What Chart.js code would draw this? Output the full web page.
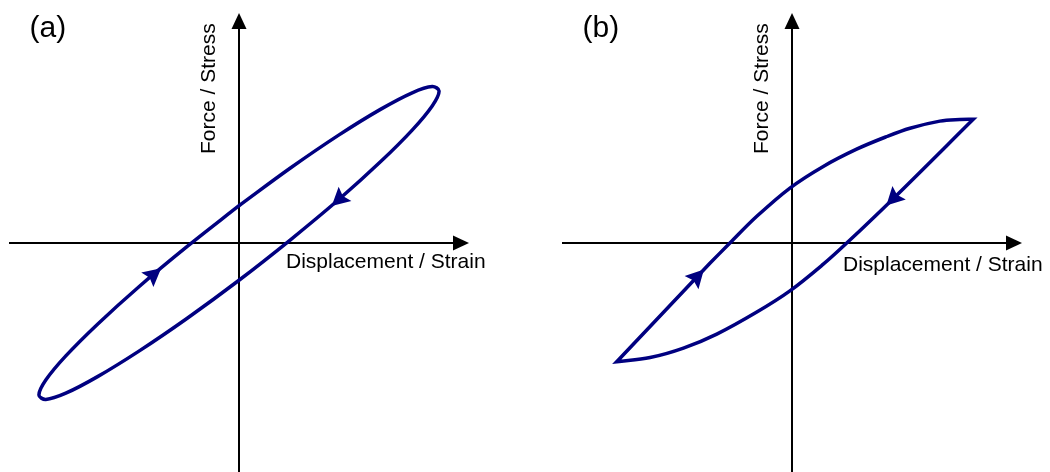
<!DOCTYPE html>
<html>
<head>
<meta charset="utf-8">
<title>Hysteresis loops</title>
<script src="https://cdn.jsdelivr.net/npm/chart.js@4"></script>
<style>
  html, body { margin: 0; padding: 0; background: #fff; }
  #wrap { position: relative; width: 1050px; height: 472px; overflow: hidden; }
  canvas { position: absolute; top: 0; }
  #chart-a { left: 0; }
  #chart-b { left: 525px; }
</style>
</head>
<body>
<div id="wrap">
  <canvas id="chart-a" width="525" height="480"></canvas>
  <canvas id="chart-b" width="525" height="480"></canvas>
</div>
<script>
// Axis range shared by both panels (arbitrary units)
const axisMin = -10;
const axisMax = 10;

// (a) elliptical loop, starts on the loading (upper) branch
const loopAX = [0, 2.25, 4.35, 6.15, 7.53, 8.40, 8.70, 8.40, 7.53, 6.15, 4.35, 2.25,
                0, -2.25, -4.35, -6.15, -7.53, -8.40, -8.70, -8.40, -7.53, -6.15, -4.35, -2.25, 0];
const loopAY = [1.62, 3.27, 4.70, 5.81, 6.53, 6.80, 6.61, 5.96, 4.91, 3.53, 1.90, 0.15,
                -1.62, -3.27, -4.70, -5.81, -6.53, -6.80, -6.61, -5.96, -4.91, -3.53, -1.90, -0.15, 1.62];
// direction arrows sitting on the loop
const arrowsAX = [-3.78, 4.30];
const arrowsAY = [-1.30, 1.96];

// (b) loop with sharp load reversals (corner points are listed twice)
const loopBX = [-3.57, -2.70, -1.53, -0.09, 1.36, 2.81, 4.10, 5.13, 6.43, 7.30, 7.88, 7.88,
                4.41, 2.38, 1.36, -0.09, -1.53, -3.27, -4.72, -6.17, -7.62, -7.62, -3.57];
const loopBY = [-0.88, 0, 1.16, 2.39, 3.33, 4.08, 4.62, 4.99, 5.30, 5.37, 5.38, 5.38,
                1.94, 0, -0.92, -2.08, -3.00, -3.96, -4.57, -4.98, -5.16, -5.16, -0.88];
const arrowsBX = [-4.14, 4.41];
const arrowsBY = [-1.46, 1.94];

const panelLabels = ['(a)', '(b)'];
const xTitle = 'Displacement / Strain';
const yTitle = 'Force / Stress';

const LINE_COLOR = '#000080';
const FONT = '"Liberation Sans", Arial, Helvetica, sans-serif';

function drawArrowHead(ctx, px, py, ang) {
    ctx.save();
    ctx.translate(px, py);
    ctx.rotate(ang);
    ctx.beginPath();
    ctx.moveTo(10, 0);
    ctx.lineTo(-8, -9.5);
    ctx.lineTo(-5, 0);
    ctx.lineTo(-8, 9.5);
    ctx.closePath();
    ctx.fill();
    ctx.restore();
}

// Axes through the origin, titles and loop arrows
const loopDecor = {
    id: 'loopDecor',
    beforeDatasetsDraw(chart, args, opts) {
        const { ctx, chartArea: area, scales: { x, y } } = chart;
        const ox = x.getPixelForValue(0);
        const oy = y.getPixelForValue(0);

        ctx.save();
        ctx.strokeStyle = '#000';
        ctx.fillStyle = '#000';
        ctx.lineWidth = 2;

        // horizontal axis with arrow
        ctx.beginPath();
        ctx.moveTo(area.left, oy);
        ctx.lineTo(area.right - 10, oy);
        ctx.stroke();
        ctx.beginPath();
        ctx.moveTo(area.right, oy);
        ctx.lineTo(area.right - 16, oy - 7.5);
        ctx.lineTo(area.right - 16, oy + 7.5);
        ctx.closePath();
        ctx.fill();

        // vertical axis with arrow
        ctx.beginPath();
        ctx.moveTo(ox, area.bottom);
        ctx.lineTo(ox, area.top + 10);
        ctx.stroke();
        ctx.beginPath();
        ctx.moveTo(ox, area.top);
        ctx.lineTo(ox - 7.5, area.top + 16);
        ctx.lineTo(ox + 7.5, area.top + 16);
        ctx.closePath();
        ctx.fill();

        // titles
        ctx.textBaseline = 'alphabetic';
        ctx.textAlign = 'left';
        ctx.font = '21px ' + FONT;
        ctx.fillText(xTitle, ox + opts.xTitleDx, oy + opts.xTitleDy);

        ctx.save();
        ctx.translate(ox - 24, oy - 89);
        ctx.rotate(-Math.PI / 2);
        ctx.fillText(yTitle, 0, 0);
        ctx.restore();

        ctx.font = '30px ' + FONT;
        ctx.fillText(opts.label, ox - 209.5, 37);
        ctx.restore();
    },
    afterDatasetsDraw(chart, args, opts) {
        const { ctx, scales: { x, y } } = chart;
        const pts = chart.getDatasetMeta(0).data;
        ctx.save();
        ctx.fillStyle = LINE_COLOR;
        opts.arrowX.forEach((vx, i) => {
            const tx = x.getPixelForValue(vx);
            const ty = y.getPixelForValue(opts.arrowY[i]);
            let best = null;
            for (let j = 0; j < pts.length - 1; j++) {
                const p = pts[j], q = pts[j + 1];
                const dx = q.x - p.x, dy = q.y - p.y;
                const len2 = dx * dx + dy * dy;
                if (!len2) continue;
                let t = ((tx - p.x) * dx + (ty - p.y) * dy) / len2;
                t = Math.max(0, Math.min(1, t));
                const cx = p.x + t * dx, cy = p.y + t * dy;
                const d = (cx - tx) ** 2 + (cy - ty) ** 2;
                if (!best || d < best.d) best = { d, cx, cy, ang: Math.atan2(dy, dx) };
            }
            if (best) drawArrowHead(ctx, best.cx, best.cy, best.ang);
        });
        ctx.restore();
    }
};

function makeLoopChart(canvasId, xs, ys, arrowX, arrowY, label, padding, titleDx, titleDy) {
    const points = xs.map((v, i) => ({ x: v, y: ys[i] }));
    return new Chart(document.getElementById(canvasId), {
        type: 'scatter',
        data: {
            datasets: [{
                data: points,
                showLine: true,
                borderColor: LINE_COLOR,
                borderWidth: 3.5,
                borderJoinStyle: 'miter',
                pointRadius: 0,
                pointHoverRadius: 0,
                tension: 0.35,
                fill: false
            }]
        },
        options: {
            responsive: false,
            animation: false,
            events: [],
            layout: { padding: padding },
            plugins: {
                legend: { display: false },
                tooltip: { enabled: false },
                loopDecor: { label, arrowX, arrowY, xTitleDx: titleDx, xTitleDy: titleDy }
            },
            scales: {
                x: { type: 'linear', min: axisMin, max: axisMax, display: false },
                y: { type: 'linear', min: axisMin, max: axisMax, display: false }
            }
        },
        plugins: [loopDecor]
    });
}

makeLoopChart('chart-a', loopAX, loopAY, arrowsAX, arrowsAY, panelLabels[0],
    { left: 9, right: 56, top: 13, bottom: 7 }, 47, 25);
makeLoopChart('chart-b', loopBX, loopBY, arrowsBX, arrowsBY, panelLabels[1],
    { left: 37, right: 28, top: 13, bottom: 7 }, 51, 28);
</script>
</body>
</html>
